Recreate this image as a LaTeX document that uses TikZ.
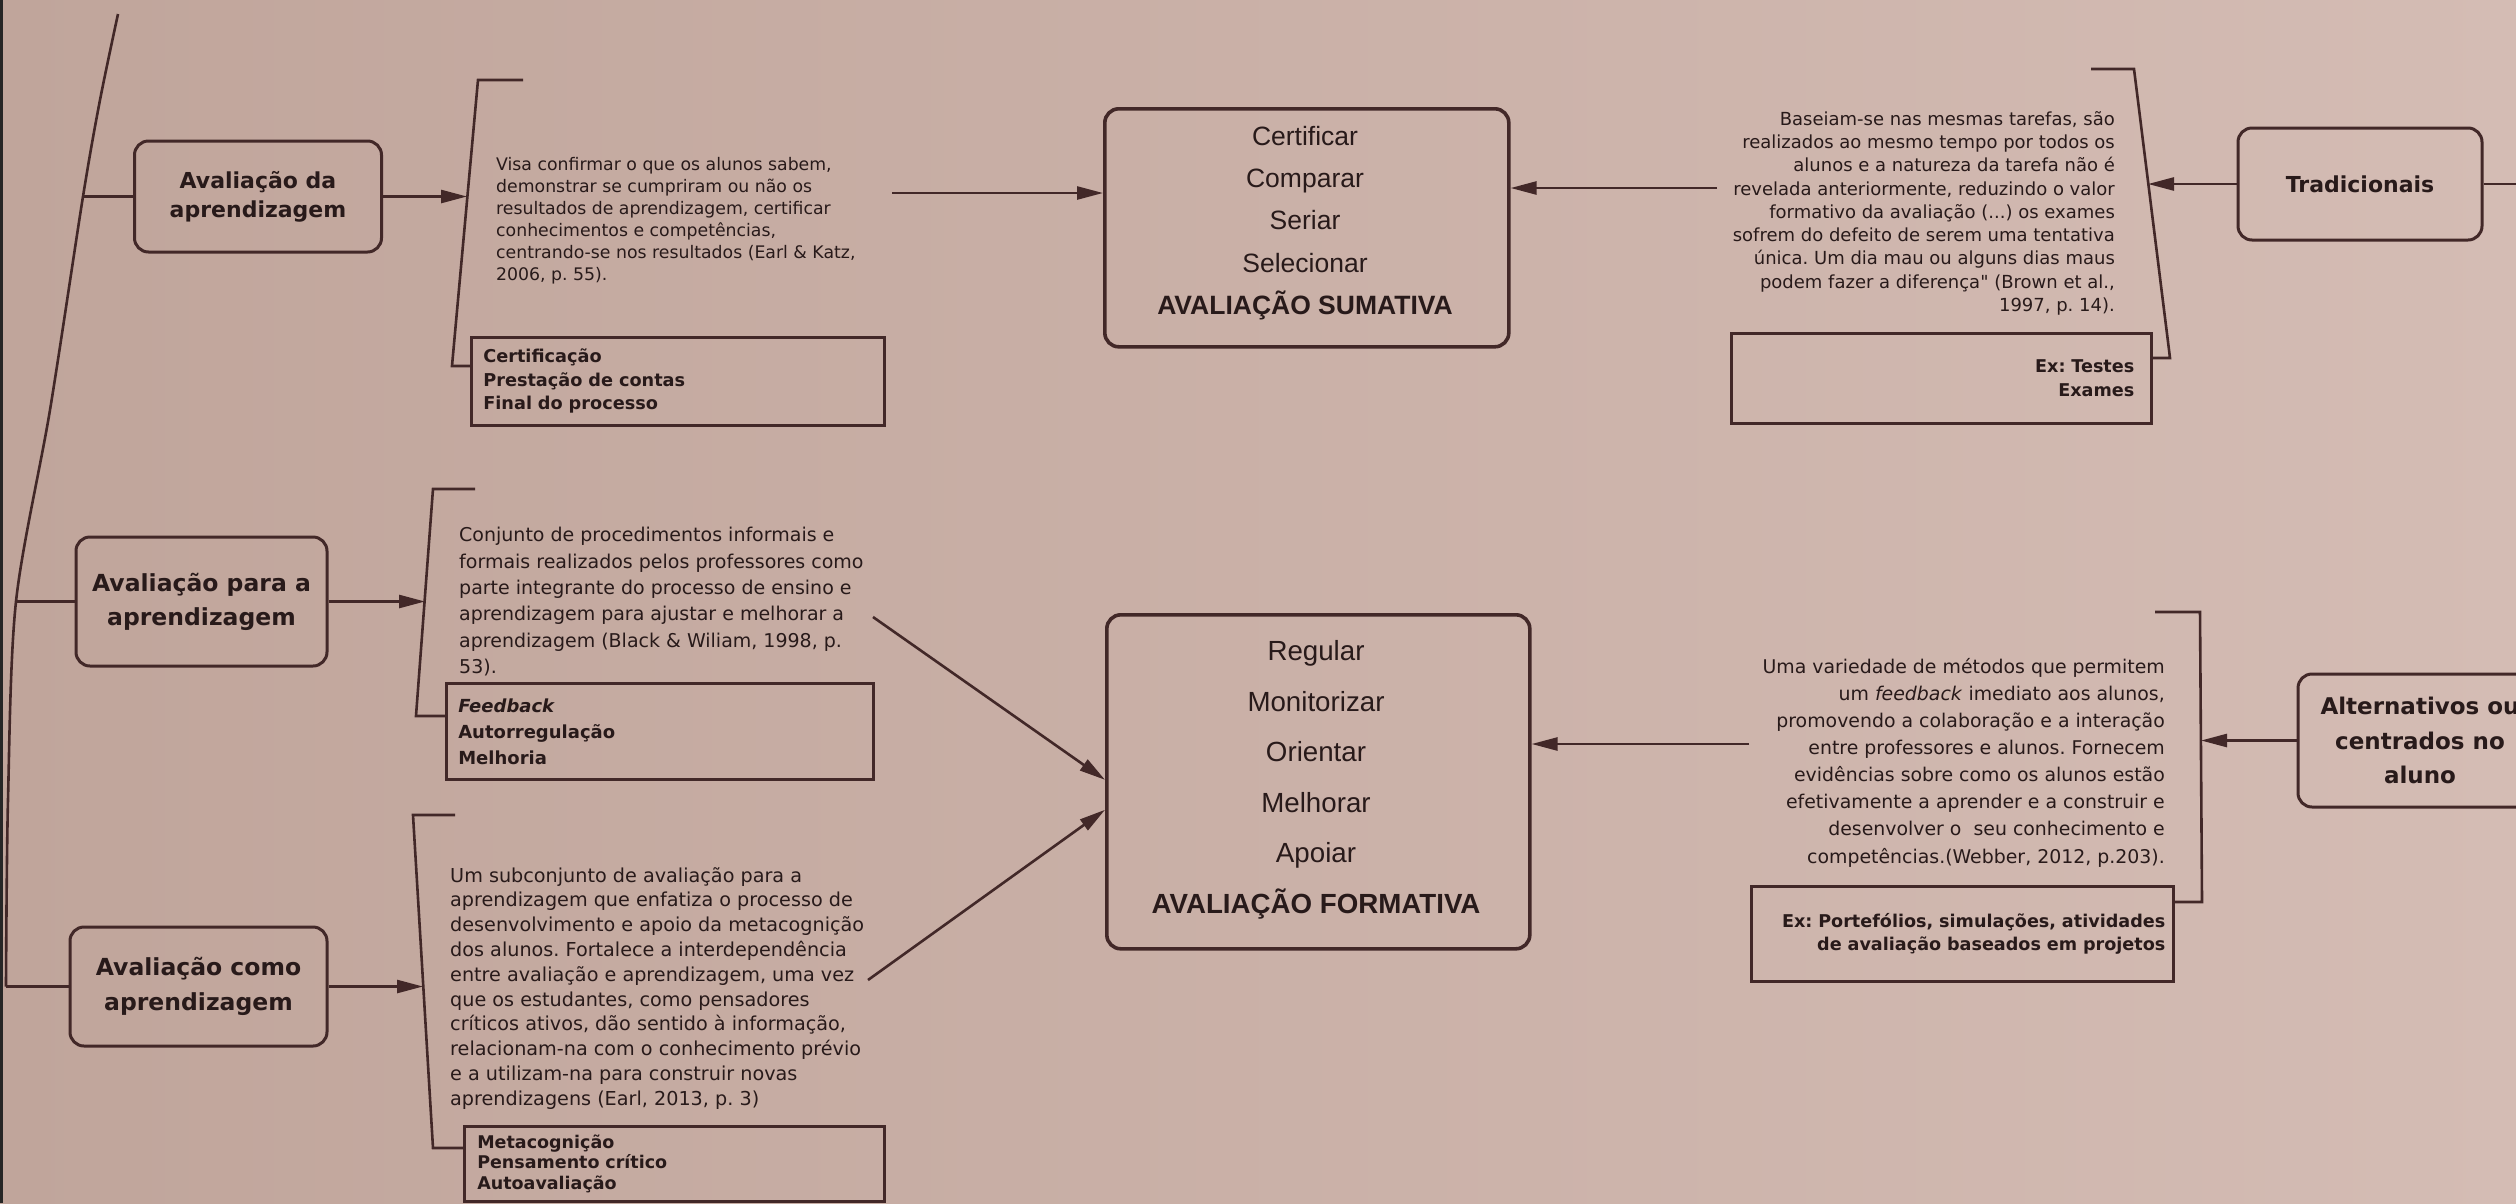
\documentclass[tikz,border=0pt]{standalone}
\usepackage{fontspec}
\setmainfont{DejaVu Sans}
\newfontfamily\fdv{DejaVu Sans}
\newfontfamily\fls{Liberation Sans}
\usetikzlibrary{arrows.meta}
\definecolor{paperL}{RGB}{192,165,155}
\definecolor{paperR}{RGB}{212,188,180}
\definecolor{ink}{RGB}{66,40,40}
\definecolor{txt}{RGB}{40,26,26}
\frenchspacing
\begin{document}
\begin{tikzpicture}[x=1pt,y=-1pt,
  lbl/.style={draw=ink, line width=3pt, rounded corners=14pt, text=txt, align=center, inner sep=0pt},
  tag/.style={draw=ink, line width=2.6pt, text=txt, inner ysep=0pt, anchor=north west},
  ctr/.style={draw=ink, line width=3.6pt, rounded corners=14pt, inner sep=0pt, anchor=north west},
  body/.style={text=txt, inner sep=0pt},
  cline/.style={text=txt, inner sep=0pt, anchor=base},
  conn/.style={draw=ink, line width=2.6pt},
  arr/.style={conn, -{Triangle[length=26pt,width=13pt]}},
  ]
\useasboundingbox (0,0) rectangle (2516,1203);
\clip (0,0) rectangle (2516,1203);
\shade[left color=paperL, right color=paperR] (0,0) rectangle (2516,1203);
\fill[black!85] (0,0) rectangle (2.5,1203);

% ---------- left labels ----------
\node[lbl, minimum width=247pt, minimum height=111pt, font=\fdv\bfseries\fontsize{22}{29}\selectfont] (a1) at (258,196.5) {Avaliação da\\aprendizagem};
\node[lbl, minimum width=251pt, minimum height=129pt, font=\fdv\bfseries\fontsize{23.5}{34}\selectfont] (a2) at (201.5,601.5) {Avaliação para a\\aprendizagem};
\node[lbl, minimum width=257pt, minimum height=119pt, font=\fdv\bfseries\fontsize{23.5}{35}\selectfont] (a3) at (198.5,986.5) {Avaliação como\\aprendizagem};

% ---------- right labels ----------
\node[lbl, minimum width=244pt, minimum height=112pt, font=\fdv\bfseries\fontsize{22}{29}\selectfont] (trad) at (2360,184) {Tradicionais};
\node[lbl, minimum width=244pt, minimum height=133pt, font=\fdv\bfseries\fontsize{23}{34.5}\selectfont] (alt) at (2420,740.5) {Alternativos ou\\centrados no\\aluno};

% ---------- trunk ----------
\coordinate (tb1) at (83,196.5);
\coordinate (tb2) at (16,601.5);
\coordinate (tb3) at (6,986.5);
\draw[conn] plot[smooth] coordinates {(118,14) (100,100) (83,196.5) (50,410) (16,601.5) (8,800) (6,986.5)};
\draw[conn] (tb1) -- (a1.west);
\draw[conn] (tb2) -- (a2.west);
\draw[conn] (tb3) -- (a3.west);

% ---------- centre boxes ----------
\node[ctr, minimum width=404pt, minimum height=238pt] (sum) at (1103,107) {};
\node[cline, font=\fls\fontsize{26.5}{30}\selectfont] (sum1) at (1305,145) {Certificar};
\node[cline, font=\fls\fontsize{26.5}{30}\selectfont] (sum2) at (1305,187) {Comparar};
\node[cline, font=\fls\fontsize{26.5}{30}\selectfont] (sum3) at (1305,229) {Seriar};
\node[cline, font=\fls\fontsize{26.5}{30}\selectfont] (sum4) at (1305,272) {Selecionar};
\node[cline, font=\fls\bfseries\fontsize{26.5}{30}\selectfont] (sum5) at (1305,314) {AVALIAÇÃO SUMATIVA};

\node[ctr, minimum width=423pt, minimum height=334pt] (form) at (1105,613) {};
\node[cline, font=\fls\fontsize{27.7}{30}\selectfont] (form1) at (1316,660) {Regular};
\node[cline, font=\fls\fontsize{27.7}{30}\selectfont] (form2) at (1316,711) {Monitorizar};
\node[cline, font=\fls\fontsize{27.7}{30}\selectfont] (form3) at (1316,761) {Orientar};
\node[cline, font=\fls\fontsize{27.7}{30}\selectfont] (form4) at (1316,812) {Melhorar};
\node[cline, font=\fls\fontsize{27.7}{30}\selectfont] (form5) at (1316,862) {Apoiar};
\node[cline, font=\fls\bfseries\fontsize{27.7}{30}\selectfont] (form6) at (1316,913) {AVALIAÇÃO FORMATIVA};

% ---------- body texts ----------
\node[body, anchor=north west, align=left, font=\fdv\fontsize{17.3}{22}\selectfont] (d1) at (496,157)
 {Visa confirmar o que os alunos sabem,\\demonstrar se cumpriram ou não os\\resultados de aprendizagem, certificar\\conhecimentos e competências,\\centrando-se nos resultados (Earl \& Katz,\\2006, p. 55).};
\node[body, anchor=north east, align=right, font=\fdv\fontsize{18}{23.3}\selectfont] (d2) at (2115,111)
 {Baseiam-se nas mesmas tarefas, são\\realizados ao mesmo tempo por todos os\\alunos e a natureza da tarefa não é\\revelada anteriormente, reduzindo o valor\\formativo da avaliação (...) os exames\\sofrem do defeito de serem uma tentativa\\única. Um dia mau ou alguns dias maus\\podem fazer a diferença" (Brown et al.,\\1997, p. 14).};
\node[body, anchor=north west, align=left, font=\fdv\fontsize{19}{26.4}\selectfont] (d3) at (459,527)
 {Conjunto de procedimentos informais e\\formais realizados pelos professores como\\parte integrante do processo de ensino e\\aprendizagem para ajustar e melhorar a\\aprendizagem (Black \& Wiliam, 1998, p.\\53).};
\node[body, anchor=north west, align=left, font=\fdv\fontsize{19.2}{24.8}\selectfont] (d4) at (450,867)
 {Um subconjunto de avaliação para a\\aprendizagem que enfatiza o processo de\\desenvolvimento e apoio da metacognição\\dos alunos. Fortalece a interdependência\\entre avaliação e aprendizagem, uma vez\\que os estudantes, como pensadores\\críticos ativos, dão sentido à informação,\\relacionam-na com o conhecimento prévio\\e a utilizam-na para construir novas\\aprendizagens (Earl, 2013, p. 3)};
\node[body, anchor=north east, align=right, font=\fdv\fontsize{18.9}{27.1}\selectfont] (d5) at (2165,658)
 {Uma variedade de métodos que permitem\\um \textit{feedback} imediato aos alunos,\\promovendo a colaboração e a interação\\entre professores e alunos. Fornecem\\evidências sobre como os alunos estão\\efetivamente a aprender e a construir e\\desenvolver o\ \ seu conhecimento e\\competências.(Webber, 2012, p.203).};

% ---------- tag boxes ----------
\node[tag, minimum width=413pt, minimum height=88pt, inner xsep=12pt, text width=389pt, align=left, font=\fdv\bfseries\fontsize{17.7}{23.5}\selectfont] (t1) at (470,336)
 {Certificação\\Prestação de contas\\Final do processo};
\node[tag, minimum width=420pt, minimum height=90pt, inner xsep=17pt, text width=386pt, align=right, font=\fdv\bfseries\fontsize{17.6}{23.5}\selectfont] (t2) at (1730,332)
 {Ex: Testes\\Exames};
\node[tag, minimum width=427pt, minimum height=96pt, inner xsep=12pt, text width=403pt, align=left, font=\fdv\bfseries\fontsize{18}{26}\selectfont] (t3) at (445,682)
 {\textit{Feedback}\\Autorregulação\\Melhoria};
\node[tag, minimum width=420pt, minimum height=75pt, inner xsep=13pt, text width=394pt, align=left, font=\fdv\bfseries\fontsize{17.5}{20.5}\selectfont] (t4) at (463,1125)
 {Metacognição\\Pensamento crítico\\Autoavaliação};
\node[tag, minimum width=422pt, minimum height=95pt, inner xsep=8pt, text width=406pt, align=right, font=\fdv\bfseries\fontsize{17.6}{23}\selectfont] (t5) at (1750,885)
 {\mbox{Ex: Portefólios, simulações, atividades}\\\mbox{de avaliação baseados em projetos}};

% ---------- brackets ----------
\coordinate (b1a) at (523,80);  \coordinate (b1b) at (478,80);  \coordinate (b1c) at (452,366);
\coordinate (b1m) at (467,196.5);
\draw[conn] (b1a) -- (b1b) -- (b1c) -- (b1c -| t1.west);
\coordinate (b2a) at (2091,69); \coordinate (b2b) at (2134,69); \coordinate (b2c) at (2170,358);
\coordinate (b2m) at (2148,184);
\draw[conn] (b2a) -- (b2b) -- (b2c) -- (b2c -| t2.east);
\coordinate (b3a) at (475,489); \coordinate (b3b) at (433,489); \coordinate (b3c) at (416,716);
\coordinate (b3m) at (425,601.5);
\draw[conn] (b3a) -- (b3b) -- (b3c) -- (b3c -| t3.west);
\coordinate (b4a) at (2155,612); \coordinate (b4b) at (2200,612); \coordinate (b4c) at (2202,902);
\coordinate (b4m) at (2201,740.5);
\draw[conn] (b4a) -- (b4b) -- (b4c) -- (b4c -| t5.east);
\coordinate (b5a) at (455,815); \coordinate (b5b) at (413,815); \coordinate (b5c) at (433,1148);
\coordinate (b5m) at (423,986.5);
\draw[conn] (b5a) -- (b5b) -- (b5c) -- (b5c -| t4.west);

% ---------- arrows label -> bracket ----------
\draw[arr] (a1.east) -- (b1m);
\draw[arr] (a2.east) -- (b3m);
\draw[arr] (a3.east) -- (b5m);
\draw[arr] (trad.west) -- (b2m);
\draw[arr] (alt.west) -- (b4m);
\coordinate (tradout) at (2516,184);
\draw[conn] (trad.east) -- (tradout);

% ---------- arrows body -> centre ----------
\coordinate (s1) at (892,193);
\draw[arr] (s1) -- (s1 -| sum.west);
\coordinate (s2) at (1717,188);
\draw[arr] (s2) -- (s2 -| sum.east);
\coordinate (s3) at (873,617);
\draw[arr] (s3) -- ([yshift=2pt]form.west);
\coordinate (s4) at (868,980);
\draw[arr] (s4) -- ([yshift=-28pt]form.west);
\coordinate (s5) at (1749,744);
\draw[arr] (s5) -- (s5 -| form.east);
\end{tikzpicture}
\end{document}
